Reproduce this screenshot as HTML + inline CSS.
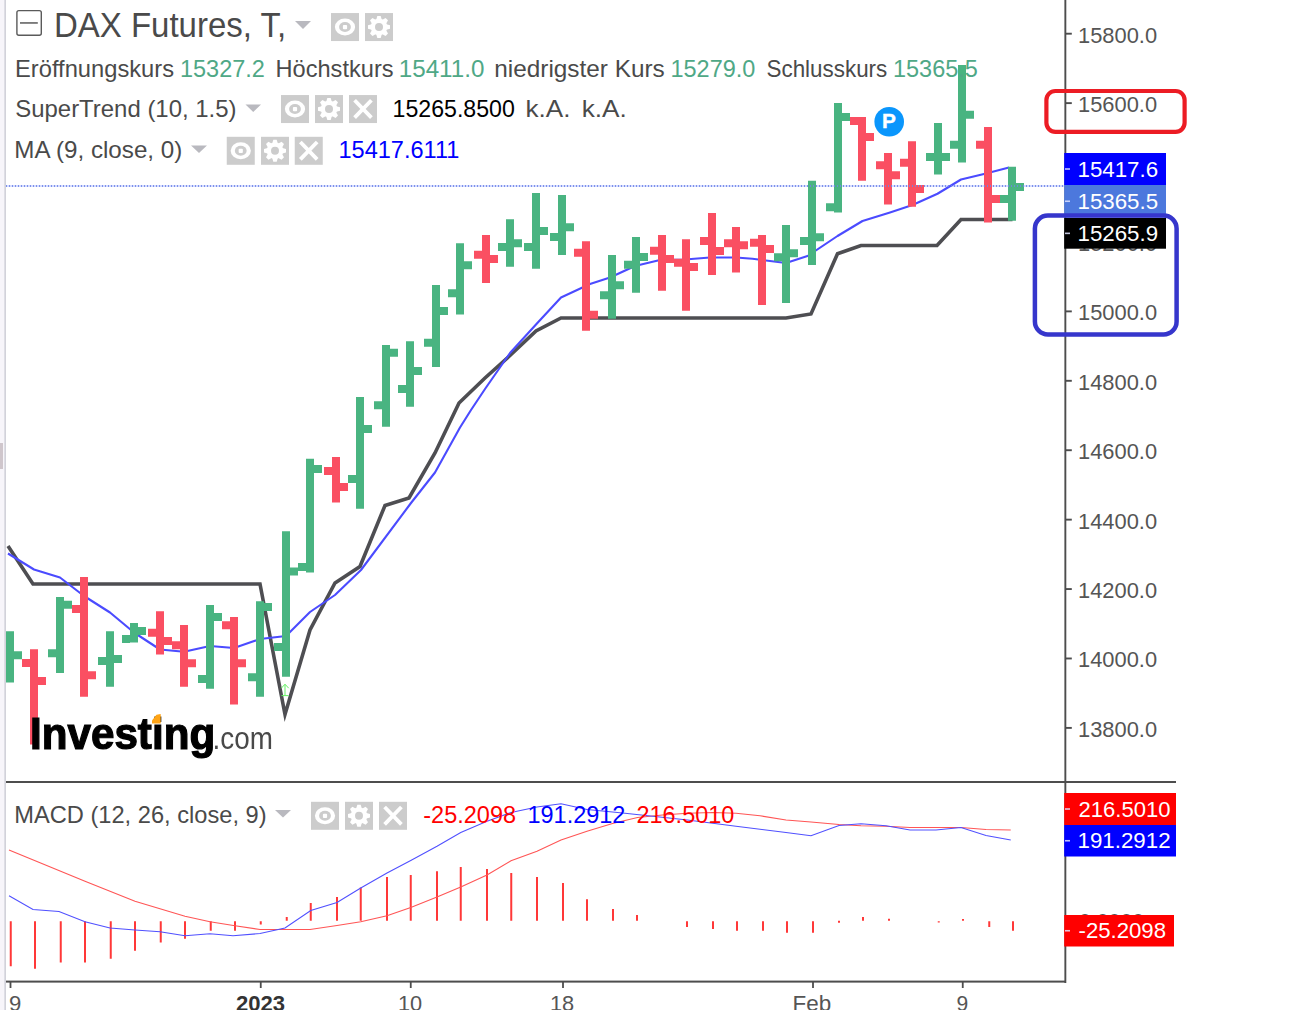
<!DOCTYPE html><html><head><meta charset="utf-8"><title>DAX Futures</title><style>html,body{margin:0;padding:0;background:#fff;overflow:hidden}svg{display:block}</style></head><body><svg width="1292" height="1010" viewBox="0 0 1292 1010" font-family="'Liberation Sans', sans-serif">
<rect width="1292" height="1010" fill="#fff"/>
<rect x="0" y="0" width="4.4" height="1010" fill="#f7f5fa"/>
<rect x="4.3" y="0" width="1.7" height="1010" fill="#d2d2da"/>
<rect x="0" y="443" width="3" height="26" fill="#cfc6cc"/>
<rect x="1066" y="726.95" width="5.8" height="1.9" fill="#4d4d4d"/>
<text x="1078.00" y="736.85" font-size="22.4" fill="#555555" textLength="79.06" lengthAdjust="spacingAndGlyphs">13800.0</text>
<rect x="1066" y="657.53" width="5.8" height="1.9" fill="#4d4d4d"/>
<text x="1078.00" y="667.43" font-size="22.4" fill="#555555" textLength="79.06" lengthAdjust="spacingAndGlyphs">14000.0</text>
<rect x="1066" y="588.11" width="5.8" height="1.9" fill="#4d4d4d"/>
<text x="1078.00" y="598.01" font-size="22.4" fill="#555555" textLength="79.06" lengthAdjust="spacingAndGlyphs">14200.0</text>
<rect x="1066" y="518.69" width="5.8" height="1.9" fill="#4d4d4d"/>
<text x="1078.00" y="528.59" font-size="22.4" fill="#555555" textLength="79.06" lengthAdjust="spacingAndGlyphs">14400.0</text>
<rect x="1066" y="449.27" width="5.8" height="1.9" fill="#4d4d4d"/>
<text x="1078.00" y="459.17" font-size="22.4" fill="#555555" textLength="79.06" lengthAdjust="spacingAndGlyphs">14600.0</text>
<rect x="1066" y="379.85" width="5.8" height="1.9" fill="#4d4d4d"/>
<text x="1078.00" y="389.75" font-size="22.4" fill="#555555" textLength="79.06" lengthAdjust="spacingAndGlyphs">14800.0</text>
<rect x="1066" y="310.43" width="5.8" height="1.9" fill="#4d4d4d"/>
<text x="1078.00" y="320.33" font-size="22.4" fill="#555555" textLength="79.06" lengthAdjust="spacingAndGlyphs">15000.0</text>
<rect x="1066" y="241.01" width="5.8" height="1.9" fill="#4d4d4d"/>
<text x="1078.00" y="250.91" font-size="22.4" fill="#555555" textLength="79.06" lengthAdjust="spacingAndGlyphs">15200.0</text>
<rect x="1066" y="171.59" width="5.8" height="1.9" fill="#4d4d4d"/>
<text x="1078.00" y="181.49" font-size="22.4" fill="#555555" textLength="79.06" lengthAdjust="spacingAndGlyphs">15400.0</text>
<rect x="1066" y="102.17" width="5.8" height="1.9" fill="#4d4d4d"/>
<text x="1078.00" y="112.07" font-size="22.4" fill="#555555" textLength="79.06" lengthAdjust="spacingAndGlyphs">15600.0</text>
<rect x="1066" y="32.75" width="5.8" height="1.9" fill="#4d4d4d"/>
<text x="1078.00" y="42.65" font-size="22.4" fill="#555555" textLength="79.06" lengthAdjust="spacingAndGlyphs">15800.0</text>
<text x="1079.00" y="928.5" font-size="22.4" fill="#555555" textLength="65.05" lengthAdjust="spacingAndGlyphs">0.0000</text>
<rect x="6" y="185" width="1058" height="2" fill="#d6dcff"/>
<clipPath id="c"><rect x="6" y="0" width="1059" height="782"/></clipPath>
<g clip-path="url(#c)">
<polyline points="8,546 33,584 260,584 285,714.5 310,630 335,583 360,566.5 385,505.5 409,498 435,453 459,403 485,378 510,355.5 536,331 561,318 786,318 811,314 837.5,253.75 861,245.5 937,245.5 961,219.5 1012.5,219.5" fill="none" stroke="#4e4e52" stroke-width="3.6" stroke-linejoin="miter" stroke-miterlimit="10"/>
<polyline points="8,553.5 34,569.5 60,577.5 84,596 110,612.5 134,632.5 160,649.5 184,651.75 210,646 234,648 260,639 286,636 310,612 335,595 361,570 411,503 435,472.5 460,427.5 471,410 485,389 510,353 536,324.5 561,297.5 590,284 610,277.5 635,266 660,260 685,259.5 710,257.5 736,257.5 752.5,258.75 786,263 807.5,256 837.5,236 862.5,221 890,212.5 912.5,205 937.5,193.75 961,179.5 985,173.75 1009,167.5" fill="none" stroke="#4b4bff" stroke-width="2.1" stroke-linejoin="round"/>
<path d="M6 631.25h8V682.5h-8zM14 651.25h8v8h-8z" fill="#49b481"/>
<path d="M30 649.25h8V744.5h-8zM22 659h8v8h-8zM38 677h8v8h-8z" fill="#fa4f62"/>
<path d="M56 597h8V673h-8zM48 649.25h8v8h-8zM64 600.75h8v8h-8z" fill="#49b481"/>
<path d="M80 577h8V696.75h-8zM72 605h8v8h-8zM88 671.25h8v8h-8z" fill="#fa4f62"/>
<path d="M106 631.25h8V686.75h-8zM98 657h8v8h-8zM114 655h8v8h-8z" fill="#49b481"/>
<path d="M130 623h8V642.5h-8zM122 635h8v8h-8zM138 627h8v8h-8z" fill="#49b481"/>
<path d="M156 611.25h8V654.5h-8zM148 628.75h8v8h-8zM164 637h8v8h-8z" fill="#fa4f62"/>
<path d="M180 625h8V686.75h-8zM172 641.25h8v8h-8zM188 659.25h8v8h-8z" fill="#fa4f62"/>
<path d="M206 605h8V688.75h-8zM198 675h8v8h-8zM214 613h8v8h-8z" fill="#49b481"/>
<path d="M230 617h8V704.5h-8zM222 621.25h8v8h-8zM238 659.25h8v8h-8z" fill="#fa4f62"/>
<path d="M256 601.25h8V696.75h-8zM248 673.25h8v8h-8zM264 603h8v8h-8z" fill="#49b481"/>
<path d="M282 531.25h8V676.75h-8zM274 643h8v8h-8zM290 567.5h8v8h-8z" fill="#49b481"/>
<path d="M306 458.75h8V572.5h-8zM298 563h8v8h-8zM314 465h8v8h-8z" fill="#49b481"/>
<path d="M332 457h8V502.5h-8zM324 467h8v8h-8zM340 483h8v8h-8z" fill="#fa4f62"/>
<path d="M356 397h8V508.75h-8zM348 475h8v8h-8zM364 425h8v8h-8z" fill="#49b481"/>
<path d="M382 345h8V426.75h-8zM374 401.25h8v8h-8zM390 348.75h8v8h-8z" fill="#49b481"/>
<path d="M406 341.25h8V406.75h-8zM398 385h8v8h-8zM414 367h8v8h-8z" fill="#49b481"/>
<path d="M432 285h8V367h-8zM424 338.75h8v8h-8zM440 307h8v8h-8z" fill="#49b481"/>
<path d="M456 243.25h8V314.5h-8zM448 289.25h8v8h-8zM464 261.25h8v8h-8z" fill="#49b481"/>
<path d="M482 235h8V283h-8zM474 250.75h8v8h-8zM490 255h8v8h-8z" fill="#fa4f62"/>
<path d="M506 219.25h8V266.75h-8zM498 243h8v8h-8zM514 239.25h8v8h-8z" fill="#49b481"/>
<path d="M532 193h8V268.75h-8zM524 243h8v8h-8zM540 227h8v8h-8z" fill="#49b481"/>
<path d="M558 195h8V255h-8zM550 233h8v8h-8zM566 223.25h8v8h-8z" fill="#49b481"/>
<path d="M582 241.25h8V330.75h-8zM574 248.75h8v8h-8zM590 310.75h8v8h-8z" fill="#fa4f62"/>
<path d="M608 255h8V318.75h-8zM600 291.25h8v8h-8zM616 281.25h8v8h-8z" fill="#49b481"/>
<path d="M632 237h8V292.75h-8zM624 260.75h8v8h-8zM640 253h8v8h-8z" fill="#49b481"/>
<path d="M658 235h8V290.75h-8zM650 246.75h8v8h-8zM666 255h8v8h-8z" fill="#fa4f62"/>
<path d="M682 239.25h8V310.75h-8zM674 258.75h8v8h-8zM690 263h8v8h-8z" fill="#fa4f62"/>
<path d="M708 213h8V275h-8zM700 237h8v8h-8zM716 247h8v8h-8z" fill="#fa4f62"/>
<path d="M732 227h8V272.5h-8zM724 239.25h8v8h-8zM740 241.25h8v8h-8z" fill="#fa4f62"/>
<path d="M758 235h8V305h-8zM750 238.75h8v8h-8zM766 245h8v8h-8z" fill="#fa4f62"/>
<path d="M782 225h8V303h-8zM774 253.25h8v8h-8zM790 249.25h8v8h-8z" fill="#49b481"/>
<path d="M808 180.75h8V265h-8zM800 237h8v8h-8zM816 233.25h8v8h-8z" fill="#49b481"/>
<path d="M834 103h8V212.5h-8zM826 203.25h8v8h-8zM842 113h8v8h-8z" fill="#49b481"/>
<path d="M858 117h8V180.75h-8zM850 117h8v8h-8zM866 133h8v8h-8z" fill="#fa4f62"/>
<path d="M884 153h8V204.5h-8zM876 161.25h8v8h-8zM892 171.25h8v8h-8z" fill="#fa4f62"/>
<path d="M908 141.25h8V206.75h-8zM900 158.75h8v8h-8zM916 185h8v8h-8z" fill="#fa4f62"/>
<path d="M934 123h8V174.5h-8zM926 153h8v8h-8zM942 153h8v8h-8z" fill="#49b481"/>
<path d="M958 65h8V162.5h-8zM950 140.75h8v8h-8zM966 110.75h8v8h-8z" fill="#49b481"/>
<path d="M984 127h8V222.5h-8zM976 140.75h8v8h-8zM992 195h8v8h-8z" fill="#fa4f62"/>
<path d="M1008 166.75h8V220.75h-8zM1000 195h8v8h-8zM1016 183h8v8h-8z" fill="#49b481"/>
<path d="M285 695.6V684.6M281.3 688.2L285 684.2L288.7 688.2M281.5 695.6h7" fill="none" stroke="#66f266" stroke-width="1"/>
</g>
<line x1="6" y1="186" x2="1064" y2="186" stroke="#6f86e6" stroke-width="2" stroke-dasharray="1 2" opacity="0.85"/>
<circle cx="889.2" cy="121.75" r="14.8" fill="#0a96fc"/>
<text x="888.90" y="127.9" font-size="20.8" fill="#fff" font-weight="bold" text-anchor="middle" stroke="#fff" stroke-width="0.4">P</text>
<filter id="blur" x="-5%" y="-20%" width="110%" height="140%"><feGaussianBlur stdDeviation="0.75"/></filter>
<g filter="url(#blur)">
<text x="30.00" y="749.2" font-size="44" fill="#000" textLength="185.18" lengthAdjust="spacingAndGlyphs" font-weight="bold" stroke="#000" stroke-width="1.2">Investing</text>
<text x="212.50" y="749.2" font-size="31.6" fill="#4a4a4a" textLength="60.32" lengthAdjust="spacingAndGlyphs">.com</text>
<path d="M152 720.5l4.5-5.8l4.2-0.6v9.3h-8.7z" fill="#ffa412"/>
</g>
<rect x="16.9" y="10.6" width="24.4" height="24.6" rx="2" fill="none" stroke="#5a5a5a" stroke-width="1.4"/>
<rect x="20" y="22.2" width="17.8" height="1.5" fill="#5a5a5a"/>
<text x="54.00" y="36.9" font-size="34.6" fill="#4a4a4a" textLength="232.14" lengthAdjust="spacingAndGlyphs">DAX Futures, T,</text>
<path d="M295 21 h16 l-8 8 z" fill="#b9b9bf"/>
<g transform="translate(331,13.05)">
<rect width="28" height="28" fill="#cccccc"/>
<ellipse cx="14" cy="13.9" rx="10.1" ry="8.5" fill="#fff"/>
<ellipse cx="14" cy="13.9" rx="5.9" ry="5" fill="#cccccc"/>
<rect x="11.9" y="12" width="4.2" height="4.2" rx="1" fill="#fff"/>
</g>
<g transform="translate(365,13.05)">
<rect width="28" height="28" fill="#cccccc"/>
<g transform="translate(14,13.9)" fill="#fff"><path d="M-3 -6.5L-1.7 -11H1.7L3 -6.5z" transform="rotate(0)"/><path d="M-3 -6.5L-1.7 -11H1.7L3 -6.5z" transform="rotate(45)"/><path d="M-3 -6.5L-1.7 -11H1.7L3 -6.5z" transform="rotate(90)"/><path d="M-3 -6.5L-1.7 -11H1.7L3 -6.5z" transform="rotate(135)"/><path d="M-3 -6.5L-1.7 -11H1.7L3 -6.5z" transform="rotate(180)"/><path d="M-3 -6.5L-1.7 -11H1.7L3 -6.5z" transform="rotate(225)"/><path d="M-3 -6.5L-1.7 -11H1.7L3 -6.5z" transform="rotate(270)"/><path d="M-3 -6.5L-1.7 -11H1.7L3 -6.5z" transform="rotate(315)"/><circle r="8.2"/><circle r="4" fill="#cccccc"/></g>
</g>
<text x="15.00" y="76.7" font-size="23.2" fill="#4a4a4a" textLength="159.06" lengthAdjust="spacingAndGlyphs">Eröffnungskurs</text>
<text x="180.00" y="76.7" font-size="23.2" fill="#4fa886" textLength="84.86" lengthAdjust="spacingAndGlyphs">15327.2</text>
<text x="275.50" y="76.7" font-size="23.2" fill="#4a4a4a" textLength="118.07" lengthAdjust="spacingAndGlyphs">Höchstkurs</text>
<text x="398.75" y="76.7" font-size="23.2" fill="#4fa886" textLength="85.60" lengthAdjust="spacingAndGlyphs">15411.0</text>
<text x="494.25" y="76.7" font-size="23.2" fill="#4a4a4a" textLength="170.55" lengthAdjust="spacingAndGlyphs">niedrigster Kurs</text>
<text x="670.50" y="76.7" font-size="23.2" fill="#4fa886" textLength="84.83" lengthAdjust="spacingAndGlyphs">15279.0</text>
<text x="766.50" y="76.7" font-size="23.2" fill="#4a4a4a" textLength="120.78" lengthAdjust="spacingAndGlyphs">Schlusskurs</text>
<text x="893.00" y="76.7" font-size="23.2" fill="#4fa886" textLength="84.86" lengthAdjust="spacingAndGlyphs">15365.5</text>
<text x="15.25" y="116.8" font-size="23.2" fill="#4a4a4a" textLength="221.27" lengthAdjust="spacingAndGlyphs">SuperTrend (10, 1.5)</text>
<path d="M245.5 104.5 h15.5 l-7.75 7.5 z" fill="#b9b9bf"/>
<g transform="translate(281,95.05)">
<rect width="28" height="28" fill="#cccccc"/>
<ellipse cx="14" cy="13.9" rx="10.1" ry="8.5" fill="#fff"/>
<ellipse cx="14" cy="13.9" rx="5.9" ry="5" fill="#cccccc"/>
<rect x="11.9" y="12" width="4.2" height="4.2" rx="1" fill="#fff"/>
</g>
<g transform="translate(315,95.05)">
<rect width="28" height="28" fill="#cccccc"/>
<g transform="translate(14,13.9)" fill="#fff"><path d="M-3 -6.5L-1.7 -11H1.7L3 -6.5z" transform="rotate(0)"/><path d="M-3 -6.5L-1.7 -11H1.7L3 -6.5z" transform="rotate(45)"/><path d="M-3 -6.5L-1.7 -11H1.7L3 -6.5z" transform="rotate(90)"/><path d="M-3 -6.5L-1.7 -11H1.7L3 -6.5z" transform="rotate(135)"/><path d="M-3 -6.5L-1.7 -11H1.7L3 -6.5z" transform="rotate(180)"/><path d="M-3 -6.5L-1.7 -11H1.7L3 -6.5z" transform="rotate(225)"/><path d="M-3 -6.5L-1.7 -11H1.7L3 -6.5z" transform="rotate(270)"/><path d="M-3 -6.5L-1.7 -11H1.7L3 -6.5z" transform="rotate(315)"/><circle r="8.2"/><circle r="4" fill="#cccccc"/></g>
</g>
<g transform="translate(349,95.05)">
<rect width="28" height="28" fill="#cccccc"/>
<path d="M5.6 5.2 L22.4 22.6 M22.4 5.2 L5.6 22.6" stroke="#fff" stroke-width="3.8" stroke-linecap="butt" fill="none"/>
</g>
<text x="392.50" y="116.8" font-size="23.2" fill="#000" textLength="122.32" lengthAdjust="spacingAndGlyphs">15265.8500</text>
<text x="525.50" y="116.8" font-size="23.2" fill="#4a4a4a" textLength="44.89" lengthAdjust="spacingAndGlyphs">k.A.</text>
<text x="581.75" y="116.8" font-size="23.2" fill="#4a4a4a" textLength="45.08" lengthAdjust="spacingAndGlyphs">k.A.</text>
<text x="14.25" y="157.5" font-size="23.2" fill="#4a4a4a" textLength="168.06" lengthAdjust="spacingAndGlyphs">MA (9, close, 0)</text>
<path d="M191 145.5 h16 l-8 7.5 z" fill="#b9b9bf"/>
<g transform="translate(226.75,136.8)">
<rect width="28" height="28" fill="#cccccc"/>
<ellipse cx="14" cy="13.9" rx="10.1" ry="8.5" fill="#fff"/>
<ellipse cx="14" cy="13.9" rx="5.9" ry="5" fill="#cccccc"/>
<rect x="11.9" y="12" width="4.2" height="4.2" rx="1" fill="#fff"/>
</g>
<g transform="translate(261,136.8)">
<rect width="28" height="28" fill="#cccccc"/>
<g transform="translate(14,13.9)" fill="#fff"><path d="M-3 -6.5L-1.7 -11H1.7L3 -6.5z" transform="rotate(0)"/><path d="M-3 -6.5L-1.7 -11H1.7L3 -6.5z" transform="rotate(45)"/><path d="M-3 -6.5L-1.7 -11H1.7L3 -6.5z" transform="rotate(90)"/><path d="M-3 -6.5L-1.7 -11H1.7L3 -6.5z" transform="rotate(135)"/><path d="M-3 -6.5L-1.7 -11H1.7L3 -6.5z" transform="rotate(180)"/><path d="M-3 -6.5L-1.7 -11H1.7L3 -6.5z" transform="rotate(225)"/><path d="M-3 -6.5L-1.7 -11H1.7L3 -6.5z" transform="rotate(270)"/><path d="M-3 -6.5L-1.7 -11H1.7L3 -6.5z" transform="rotate(315)"/><circle r="8.2"/><circle r="4" fill="#cccccc"/></g>
</g>
<g transform="translate(294.75,136.8)">
<rect width="28" height="28" fill="#cccccc"/>
<path d="M5.6 5.2 L22.4 22.6 M22.4 5.2 L5.6 22.6" stroke="#fff" stroke-width="3.8" stroke-linecap="butt" fill="none"/>
</g>
<text x="338.50" y="157.5" font-size="23.2" fill="#0000ff" textLength="120.83" lengthAdjust="spacingAndGlyphs">15417.6111</text>
<clipPath id="m"><rect x="6" y="783" width="1059" height="198"/></clipPath>
<g clip-path="url(#m)">
<path d="M10.75 921.25V966.25M35 921.25V968.75M60.75 921.25V962.5M85 921.25V962.5M110.75 921.25V958.75M135 921.25V950.75M160.75 921.25V942.5M185 921.25V938.75M210.75 921.25V930.75M235 921.25V930.75M260.75 921.25V924.5M286.75 917V920.75M310.75 903V920.75M337 897V920.75M360.75 887.5V920.75M387 877V920.75M410.75 875V920.75M437 871.25V920.75M460.75 867V920.75M487 869V920.75M511.25 873V920.75M537 877V920.75M563 883V920.75M587 899.25V920.75M613 909V920.75M637 915V920.75M687 921.25V927M713 921.25V929M737 921.25V930.75M763 921.25V930.75M787 921.25V932.75M813 921.25V932.75M839 920.75V922.75M863 917V920.75M889 918.75V920.75M938.75 921.25V922.5M963 919V920.75M989.25 921.25V927M1013 921.25V930.75" stroke="#ff3838" stroke-width="2" fill="none"/>
<polyline points="9,850.1 85,881.25 135,901.25 185,916.25 210,921.75 235,925.75 260,929.5 285,929.5 310,929.5 337,925.5 360.75,921.75 387,915.75 410.75,907.5 437,897 460.75,887 487,875 511,860.75 537,851.25 561,840 587,831.25 612.5,823.5 637.5,817.5 662.5,815 687.5,813.25 712.5,812.5 736,813.25 760,815.75 786,820 811,822 839,824.5 861,825.75 886,826.25 910,827.5 936,827.5 961,827.5 986,829.5 1010.75,830" fill="none" stroke="#ff5555" stroke-width="1.1"/>
<polyline points="9,895.8 33,909.5 59,911.5 85,921.75 110,928 135,930 160,931.75 185,935.75 210,933.75 233,935.75 260,933.5 285,928 310.75,910.5 337,902.5 360.75,888 387,873 410.75,860.5 437,846.25 460.75,832.5 487,821.25 511,812.5 537,807 561,803.75 587,809.5 612.5,812 625,813.25 687.5,820 736,826.25 786,832.5 811,835.75 839,825.5 861,823.75 886,825.75 910,830 936,830 961,827.5 986,835.5 1010.75,840" fill="none" stroke="#5050ff" stroke-width="1.1"/>
</g>
<text x="14.25" y="823" font-size="23.2" fill="#4a4a4a" textLength="252.30" lengthAdjust="spacingAndGlyphs">MACD (12, 26, close, 9)</text>
<path d="M275 810 h16 l-8 7.5 z" fill="#b9b9bf"/>
<g transform="translate(311,801.8)">
<rect width="28" height="28" fill="#cccccc"/>
<ellipse cx="14" cy="13.9" rx="10.1" ry="8.5" fill="#fff"/>
<ellipse cx="14" cy="13.9" rx="5.9" ry="5" fill="#cccccc"/>
<rect x="11.9" y="12" width="4.2" height="4.2" rx="1" fill="#fff"/>
</g>
<g transform="translate(345,801.8)">
<rect width="28" height="28" fill="#cccccc"/>
<g transform="translate(14,13.9)" fill="#fff"><path d="M-3 -6.5L-1.7 -11H1.7L3 -6.5z" transform="rotate(0)"/><path d="M-3 -6.5L-1.7 -11H1.7L3 -6.5z" transform="rotate(45)"/><path d="M-3 -6.5L-1.7 -11H1.7L3 -6.5z" transform="rotate(90)"/><path d="M-3 -6.5L-1.7 -11H1.7L3 -6.5z" transform="rotate(135)"/><path d="M-3 -6.5L-1.7 -11H1.7L3 -6.5z" transform="rotate(180)"/><path d="M-3 -6.5L-1.7 -11H1.7L3 -6.5z" transform="rotate(225)"/><path d="M-3 -6.5L-1.7 -11H1.7L3 -6.5z" transform="rotate(270)"/><path d="M-3 -6.5L-1.7 -11H1.7L3 -6.5z" transform="rotate(315)"/><circle r="8.2"/><circle r="4" fill="#cccccc"/></g>
</g>
<g transform="translate(379,801.8)">
<rect width="28" height="28" fill="#cccccc"/>
<path d="M5.6 5.2 L22.4 22.6 M22.4 5.2 L5.6 22.6" stroke="#fff" stroke-width="3.8" stroke-linecap="butt" fill="none"/>
</g>
<text x="423.25" y="823" font-size="23.2" fill="#ff0000" textLength="92.79" lengthAdjust="spacingAndGlyphs">-25.2098</text>
<text x="527.50" y="823" font-size="23.2" fill="#0000ff" textLength="97.84" lengthAdjust="spacingAndGlyphs">191.2912</text>
<text x="636.50" y="823" font-size="23.2" fill="#ff0000" textLength="97.79" lengthAdjust="spacingAndGlyphs">216.5010</text>
<rect x="1064.4" y="0" width="1.9" height="983" fill="#4d4d4d"/>
<rect x="6" y="781" width="1170" height="2" fill="#4d4d4d"/>
<rect x="6" y="980.6" width="1060" height="2" fill="#4d4d4d"/>
<rect x="9.6" y="982" width="1.8" height="6" fill="#4d4d4d"/>
<rect x="259.85" y="982" width="1.8" height="6" fill="#4d4d4d"/>
<rect x="409.85" y="982" width="1.8" height="6" fill="#4d4d4d"/>
<rect x="562.1" y="982" width="1.8" height="6" fill="#4d4d4d"/>
<rect x="812.1" y="982" width="1.8" height="6" fill="#4d4d4d"/>
<rect x="961.85" y="982" width="1.8" height="6" fill="#4d4d4d"/>
<text x="9.00" y="1011.3" font-size="22.4" fill="#555555" textLength="12.29" lengthAdjust="spacingAndGlyphs">9</text>
<text x="236.00" y="1011.3" font-size="22.4" fill="#333" textLength="49.07" lengthAdjust="spacingAndGlyphs" font-weight="bold">2023</text>
<text x="398.00" y="1011.3" font-size="22.4" fill="#555555" textLength="24.22" lengthAdjust="spacingAndGlyphs">10</text>
<text x="550.00" y="1011.3" font-size="22.4" fill="#555555" textLength="24.23" lengthAdjust="spacingAndGlyphs">18</text>
<text x="792.50" y="1011.3" font-size="22.4" fill="#555555" textLength="38.65" lengthAdjust="spacingAndGlyphs">Feb</text>
<text x="956.50" y="1011.3" font-size="22.4" fill="#555555" textLength="11.71" lengthAdjust="spacingAndGlyphs">9</text>
<rect x="1064.2" y="153" width="101.8" height="32" fill="#0000ff"/>
<rect x="1065" y="168.2" width="5" height="1.6" fill="#dfe3ff" opacity="0.85"/>
<text x="1077.50" y="176.7" font-size="21.5" fill="#fff" textLength="80.61" lengthAdjust="spacingAndGlyphs">15417.6</text>
<rect x="1064.2" y="185" width="101.8" height="32.5" fill="#4c78dd"/>
<rect x="1065" y="200.45" width="5" height="1.6" fill="#dfe3ff" opacity="0.85"/>
<text x="1077.50" y="208.95" font-size="21.5" fill="#fff" textLength="80.61" lengthAdjust="spacingAndGlyphs">15365.5</text>
<rect x="1064.2" y="218" width="101.8" height="30.7" fill="#000"/>
<rect x="1065" y="232.55" width="5" height="1.6" fill="#dfe3ff" opacity="0.85"/>
<text x="1077.50" y="241.05" font-size="21.5" fill="#fff" textLength="80.61" lengthAdjust="spacingAndGlyphs">15265.9</text>
<rect x="1064.2" y="793" width="111.8" height="32" fill="#ff0000"/>
<rect x="1065" y="808.2" width="5" height="1.6" fill="#dfe3ff" opacity="0.85"/>
<text x="1078.50" y="816.7" font-size="21.5" fill="#fff" textLength="92.05" lengthAdjust="spacingAndGlyphs">216.5010</text>
<rect x="1064.2" y="825" width="111.8" height="31.5" fill="#0000ff"/>
<rect x="1065" y="839.95" width="5" height="1.6" fill="#dfe3ff" opacity="0.85"/>
<text x="1077.50" y="848.45" font-size="21.5" fill="#fff" textLength="93.09" lengthAdjust="spacingAndGlyphs">191.2912</text>
<rect x="1064.2" y="915" width="109.8" height="31.5" fill="#ff0000"/>
<rect x="1065" y="929.95" width="5" height="1.6" fill="#dfe3ff" opacity="0.85"/>
<text x="1078.50" y="938.45" font-size="21.5" fill="#fff" textLength="87.54" lengthAdjust="spacingAndGlyphs">-25.2098</text>
<rect x="1046.4" y="91" width="138.2" height="40.8" rx="9" ry="9" fill="none" stroke="#ec1c24" stroke-width="4.2"/>
<rect x="1034.9" y="215.5" width="141.7" height="118.9" rx="13" ry="13" fill="none" stroke="#3636cc" stroke-width="4.5"/>
</svg></body></html>
